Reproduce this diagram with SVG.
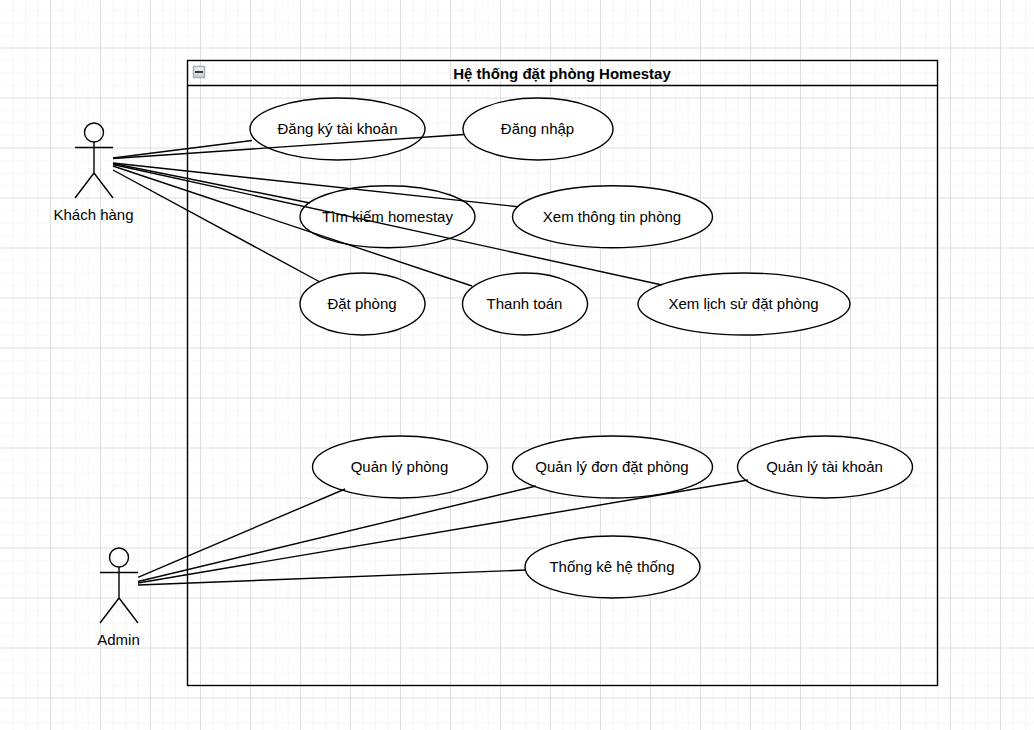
<svg xmlns="http://www.w3.org/2000/svg" width="1034" height="730" viewBox="0 0 1034 730">
<style>
text{font-family:"Liberation Sans",Arial,sans-serif;font-size:15px;fill:#000;text-anchor:middle;dominant-baseline:central}
.title{font-weight:bold}
.uc{fill:#fff;stroke:#000;stroke-width:1.4}
.a{fill:none;stroke:#000;stroke-width:1.4}
#connectors line{stroke:#000;stroke-width:1.4}
</style>
<defs>
<pattern id="grid" patternUnits="userSpaceOnUse" x="0" y="-2.5" width="50" height="50">
<path d="M13 0V50M25.5 0V50M38 0V50M0 13H50M0 25.5H50M0 38H50" fill="none" stroke="#f6f6f6" stroke-width="1"/>
<path d="M0.5 0V50M0 0.5H50" fill="none" stroke="#dedede" stroke-width="1"/>
</pattern>
<linearGradient id="ico" x1="0" y1="0" x2="0" y2="1"><stop offset="0" stop-color="#f4f5f8"/><stop offset="1" stop-color="#c9cdd8"/></linearGradient>
</defs>
<rect width="1034" height="730" fill="#fff"/>
<rect x="1" y="0" width="1033" height="730" fill="url(#grid)"/>
<g id="system">
<rect x="187.5" y="60.5" width="750" height="625" fill="none" stroke="#000" stroke-width="1.4"/>
<path d="M187.5 85.5H937.5" stroke="#000" stroke-width="1.4" fill="none"/>
<rect x="193.5" y="66.5" width="11" height="11" fill="url(#ico)" stroke="#a9aebb" stroke-width="1.5"/>
<rect x="195" y="71" width="8" height="2" fill="#3a3a3a"/>
<text class="title" x="562" y="73.5">Hệ thống đặt phòng Homestay</text>
</g>
<g id="actor-khach-hang">
<circle class="a" cx="94" cy="132.5" r="9.5"/>
<path class="a" d="M75 147.5H113M94 142V173M75 198L94 173L113 198"/>
<text x="93.5" y="214.5">Khách hàng</text>
</g>
<g id="actor-admin">
<circle class="a" cx="119" cy="557.5" r="9.5"/>
<path class="a" d="M100 572.5H138M119 567V598M100 623L119 598L138 623"/>
<text x="118.5" y="639.5">Admin</text>
</g>
<g id="uc-dang-ky"><ellipse class="uc" cx="337.5" cy="129" rx="87.5" ry="31"/><text x="337.5" y="128.5">Đăng ký tài khoản</text></g>
<g id="uc-dang-nhap"><ellipse class="uc" cx="538" cy="129" rx="75" ry="31"/><text x="537.5" y="128.5">Đăng nhập</text></g>
<g id="uc-tim-kiem"><ellipse class="uc" cx="387.5" cy="216.7" rx="87.5" ry="31"/><text x="387.5" y="216">Tìm kiếm homestay</text></g>
<g id="uc-xem-thong-tin"><ellipse class="uc" cx="612.5" cy="216.7" rx="100" ry="31"/><text x="612" y="216">Xem thông tin phòng</text></g>
<g id="uc-dat-phong"><ellipse class="uc" cx="362.5" cy="304" rx="62.5" ry="31"/><text x="362" y="303.5">Đặt phòng</text></g>
<g id="uc-thanh-toan"><ellipse class="uc" cx="525" cy="304" rx="62.5" ry="31"/><text x="524.5" y="303.5">Thanh toán</text></g>
<g id="uc-xem-lich-su"><ellipse class="uc" cx="744" cy="304" rx="106" ry="31"/><text x="743.5" y="303.5">Xem lịch sử đặt phòng</text></g>
<g id="uc-quan-ly-phong"><ellipse class="uc" cx="400" cy="467" rx="87.5" ry="31"/><text x="399.5" y="466.5">Quản lý phòng</text></g>
<g id="uc-quan-ly-don"><ellipse class="uc" cx="612.5" cy="467" rx="100" ry="31"/><text x="612" y="466.5">Quản lý đơn đặt phòng</text></g>
<g id="uc-quan-ly-tai-khoan"><ellipse class="uc" cx="825" cy="467" rx="87.5" ry="31"/><text x="824.5" y="466.5">Quản lý tài khoản</text></g>
<g id="uc-thong-ke"><ellipse class="uc" cx="612.5" cy="567" rx="87.5" ry="31"/><text x="612" y="566.5">Thống kê hệ thống</text></g>
<g id="connectors">
<line x1="113" y1="158" x2="252" y2="140.5"/>
<line x1="113" y1="158.5" x2="464" y2="134.5"/>
<line x1="113" y1="163" x2="518" y2="206.7"/>
<line x1="113" y1="163.5" x2="310" y2="203"/>
<line x1="113" y1="164.5" x2="662" y2="285"/>
<line x1="113" y1="166" x2="472" y2="286"/>
<line x1="113" y1="170" x2="320" y2="282"/>
<line x1="138" y1="577.3" x2="345" y2="489"/>
<line x1="138" y1="581.5" x2="536" y2="486"/>
<line x1="138" y1="583" x2="748" y2="480"/>
<line x1="138" y1="585" x2="526" y2="570"/>
</g>
</svg>
